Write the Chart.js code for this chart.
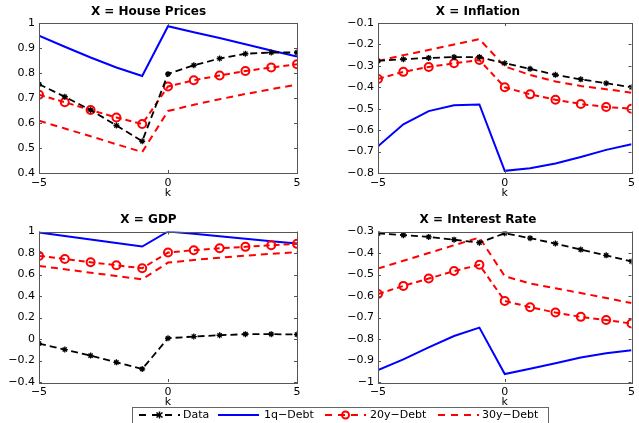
<!DOCTYPE html>
<html>
<head>
<meta charset="utf-8">
<script src="https://cdn.jsdelivr.net/npm/chart.js@4.4.1/dist/chart.umd.min.js"></script>
<style>
  html, body { margin: 0; padding: 0; background: #fff; width: 639px; height: 423px; overflow: hidden; position: relative; }
  canvas { position: absolute; }
  .lg { position: absolute; font-family: "DejaVu Sans", sans-serif; font-size: 11px; line-height: 13px; color: #000; white-space: nowrap; }
  svg { position: absolute; }
</style>
</head>
<body>
<canvas id="c1" width="320" height="200" style="left:0;top:0"></canvas>
<canvas id="c2" width="319" height="200" style="left:320px;top:0"></canvas>
<canvas id="c3" width="320" height="209" style="left:0;top:200px"></canvas>
<canvas id="c4" width="319" height="209" style="left:320px;top:200px"></canvas>

<div style="position:absolute;left:132px;top:407px;width:415px;height:22px;border:1px solid #666;"></div>
<svg style="left:139px;top:409px" width="42" height="12">
  <line x1="0" y1="6" x2="41" y2="6" stroke="#000" stroke-width="2" stroke-dasharray="7,6"/>
  <g stroke="#000" stroke-width="1.5">
    <line x1="17.5" y1="3.5" x2="23.5" y2="8.5"/><line x1="17.5" y1="8.5" x2="23.5" y2="3.5"/><line x1="20.5" y1="2.5" x2="20.5" y2="9.5"/>
  </g>
</svg>
<span class="lg" style="left:183px;top:408px">Data</span>
<svg style="left:218px;top:409px" width="42" height="12">
  <line x1="0" y1="6" x2="41" y2="6" stroke="#0000ff" stroke-width="2"/>
</svg>
<span class="lg" style="left:264px;top:408px">1q−Debt</span>
<svg style="left:325px;top:409px" width="42" height="12">
  <line x1="0" y1="6" x2="41" y2="6" stroke="#ff0000" stroke-width="2" stroke-dasharray="7,6"/>
  <circle cx="20.5" cy="6" r="3.5" fill="none" stroke="#ff0000" stroke-width="2"/>
</svg>
<span class="lg" style="left:370px;top:408px">20y−Debt</span>
<svg style="left:438px;top:409px" width="42" height="12">
  <line x1="0" y1="6" x2="41" y2="6" stroke="#ff0000" stroke-width="2" stroke-dasharray="7,6"/>
</svg>
<span class="lg" style="left:482px;top:408px">30y−Debt</span>

<script>
// ---------- data ----------
const k = [-5, -4, -3, -2, -1, 0, 1, 2, 3, 4, 5];
const xTicks = [-5, 0, 5];

const houseData = [0.755, 0.705, 0.652, 0.590, 0.527, 0.796, 0.831, 0.858, 0.877, 0.882, 0.882];
const house1q   = [0.949, 0.905, 0.862, 0.822, 0.788, 0.987, 0.963, 0.940, 0.915, 0.890, 0.866];
const house20y  = [0.713, 0.683, 0.652, 0.622, 0.596, 0.746, 0.771, 0.790, 0.808, 0.822, 0.835];
const house30y  = [0.609, 0.578, 0.547, 0.515, 0.484, 0.648, 0.673, 0.695, 0.716, 0.735, 0.754];

const inflData = [-0.277, -0.269, -0.263, -0.259, -0.259, -0.288, -0.314, -0.342, -0.363, -0.381, -0.400];
const infl1q   = [-0.675, -0.573, -0.511, -0.484, -0.480, -0.790, -0.778, -0.756, -0.725, -0.692, -0.666];
const infl20y  = [-0.361, -0.328, -0.305, -0.288, -0.273, -0.400, -0.433, -0.458, -0.478, -0.492, -0.500];
const infl30y  = [-0.277, -0.250, -0.226, -0.200, -0.175, -0.303, -0.342, -0.373, -0.394, -0.409, -0.425];

const gdpData = [-0.042, -0.098, -0.154, -0.217, -0.279, 0.007, 0.023, 0.035, 0.045, 0.045, 0.042];
const gdp1q   = [0.990, 0.958, 0.925, 0.893, 0.860, 1.000, 0.978, 0.955, 0.933, 0.910, 0.888];
const gdp20y  = [0.773, 0.745, 0.714, 0.686, 0.658, 0.804, 0.826, 0.844, 0.857, 0.872, 0.885];
const gdp30y  = [0.680, 0.649, 0.617, 0.586, 0.555, 0.711, 0.735, 0.756, 0.775, 0.792, 0.807];

const rateData = [-0.309, -0.317, -0.325, -0.338, -0.352, -0.308, -0.331, -0.356, -0.384, -0.411, -0.439];
const rate1q   = [-0.945, -0.895, -0.839, -0.786, -0.747, -0.963, -0.938, -0.913, -0.886, -0.866, -0.852];
const rate20y  = [-0.591, -0.553, -0.519, -0.484, -0.455, -0.623, -0.652, -0.677, -0.697, -0.712, -0.728];
const rate30y  = [-0.472, -0.436, -0.400, -0.364, -0.328, -0.508, -0.542, -0.564, -0.586, -0.609, -0.633];

const titles = ['X = House Prices', 'X = Inflation', 'X = GDP', 'X = Interest Rate'];
const seriesNames = ['Data', '1q\u2212Debt', '20y\u2212Debt', '30y\u2212Debt'];
const xLabel = 'k';

// ---------- rendering ----------
const FONT = '"DejaVu Sans", sans-serif';
const AXIS_COLOR = '#555';

const framePlugin = {
  id: 'frame',
  afterDraw(chart) {
    const {ctx, chartArea: a, scales} = chart;
    ctx.save();
    ctx.strokeStyle = AXIS_COLOR;
    ctx.lineWidth = 1;
    ctx.strokeRect(Math.round(a.left) + 0.5, Math.round(a.top) + 0.5, Math.round(a.right - a.left), Math.round(a.bottom - a.top));
    ctx.beginPath();
    const tl = 3;
    scales.x.ticks.forEach(t => {
      const px = Math.round(scales.x.getPixelForValue(t.value)) + 0.5;
      ctx.moveTo(px, a.bottom); ctx.lineTo(px, a.bottom - tl);
      ctx.moveTo(px, a.top); ctx.lineTo(px, a.top + tl);
    });
    scales.y.ticks.forEach(t => {
      const py = Math.round(scales.y.getPixelForValue(t.value)) + 0.5;
      ctx.moveTo(a.left, py); ctx.lineTo(a.left + tl, py);
      ctx.moveTo(a.right, py); ctx.lineTo(a.right - tl, py);
    });
    ctx.stroke();
    ctx.restore();
  }
};

function pts(arr) { return arr.map((v, i) => ({x: k[i], y: v})); }
function fmt(v) {
  const s = (Math.round(v * 100) / 100).toString();
  return s.replace('-', '\u2212');
}

function makeChart(id, title, series, yMin, yMax, yStep, yWidth, padRight, padTop) {
  const [d, q, s20, s30] = series;
  return new Chart(document.getElementById(id), {
    type: 'line',
    data: {
      datasets: [
        { label: seriesNames[0], data: pts(d), borderColor: '#000', borderWidth: 1.8, borderDash: [7, 4],
          pointStyle: 'star', pointRadius: 3, pointBorderWidth: 1.3, pointBorderColor: '#000', pointBackgroundColor: '#000', order: 0 },
        { label: seriesNames[1], data: pts(q), borderColor: '#0000ff', borderWidth: 2, pointRadius: 0, order: 3 },
        { label: seriesNames[2], data: pts(s20), borderColor: '#ff0000', borderWidth: 2, borderDash: [6, 4],
          pointStyle: 'circle', pointRadius: 4, pointBorderWidth: 2, pointBorderColor: '#ff0000', pointBackgroundColor: 'rgba(0,0,0,0)', order: 1 },
        { label: seriesNames[3], data: pts(s30), borderColor: '#ff0000', borderWidth: 2, borderDash: [7, 5], pointRadius: 0, order: 2 }
      ]
    },
    options: {
      responsive: false,
      animation: false,
      devicePixelRatio: 1,
      events: [],
      layout: { autoPadding: false, padding: { left: 0, right: padRight, top: padTop, bottom: 0 } },
      plugins: {
        legend: { display: false },
        tooltip: { enabled: false },
        title: { display: true, text: title, color: '#000', font: { family: FONT, size: 12, weight: 'bold' }, padding: { top: 4.5, bottom: 4.1 } }
      },
      scales: {
        x: {
          type: 'linear', min: -5, max: 5,
          afterBuildTicks: (s) => { s.ticks = xTicks.map(v => ({ value: v })); },
          afterFit: (s) => { s.height = 27; },
          grid: { display: false, drawTicks: false },
          border: { display: false },
          ticks: { color: '#000', font: { family: FONT, size: 11 }, padding: 4, maxRotation: 0, callback: (v) => fmt(v) },
          title: { display: true, text: xLabel, color: '#000', font: { family: FONT, size: 11 }, padding: { top: 0, bottom: 0 } }
        },
        y: {
          type: 'linear', min: yMin, max: yMax,
          afterFit: (s) => { s.width = yWidth; },
          grid: { display: false, drawTicks: false },
          border: { display: false },
          ticks: { stepSize: yStep, color: '#000', font: { family: FONT, size: 11 }, padding: 4, callback: (v) => fmt(v) }
        }
      }
    },
    plugins: [framePlugin]
  });
}

makeChart('c1', titles[0], [houseData, house1q, house20y, house30y], 0.4, 1.0, 0.1, 39, 23, 0);
makeChart('c2', titles[1], [inflData, infl1q, infl20y, infl30y], -0.8, -0.1, 0.1, 58, 3, 0);
makeChart('c3', titles[2], [gdpData, gdp1q, gdp20y, gdp30y], -0.4, 1.0, 0.2, 39, 23, 8.5);
makeChart('c4', titles[3], [rateData, rate1q, rate20y, rate30y], -1.0, -0.3, 0.1, 58, 3, 8.5);
</script>
</body>
</html>
